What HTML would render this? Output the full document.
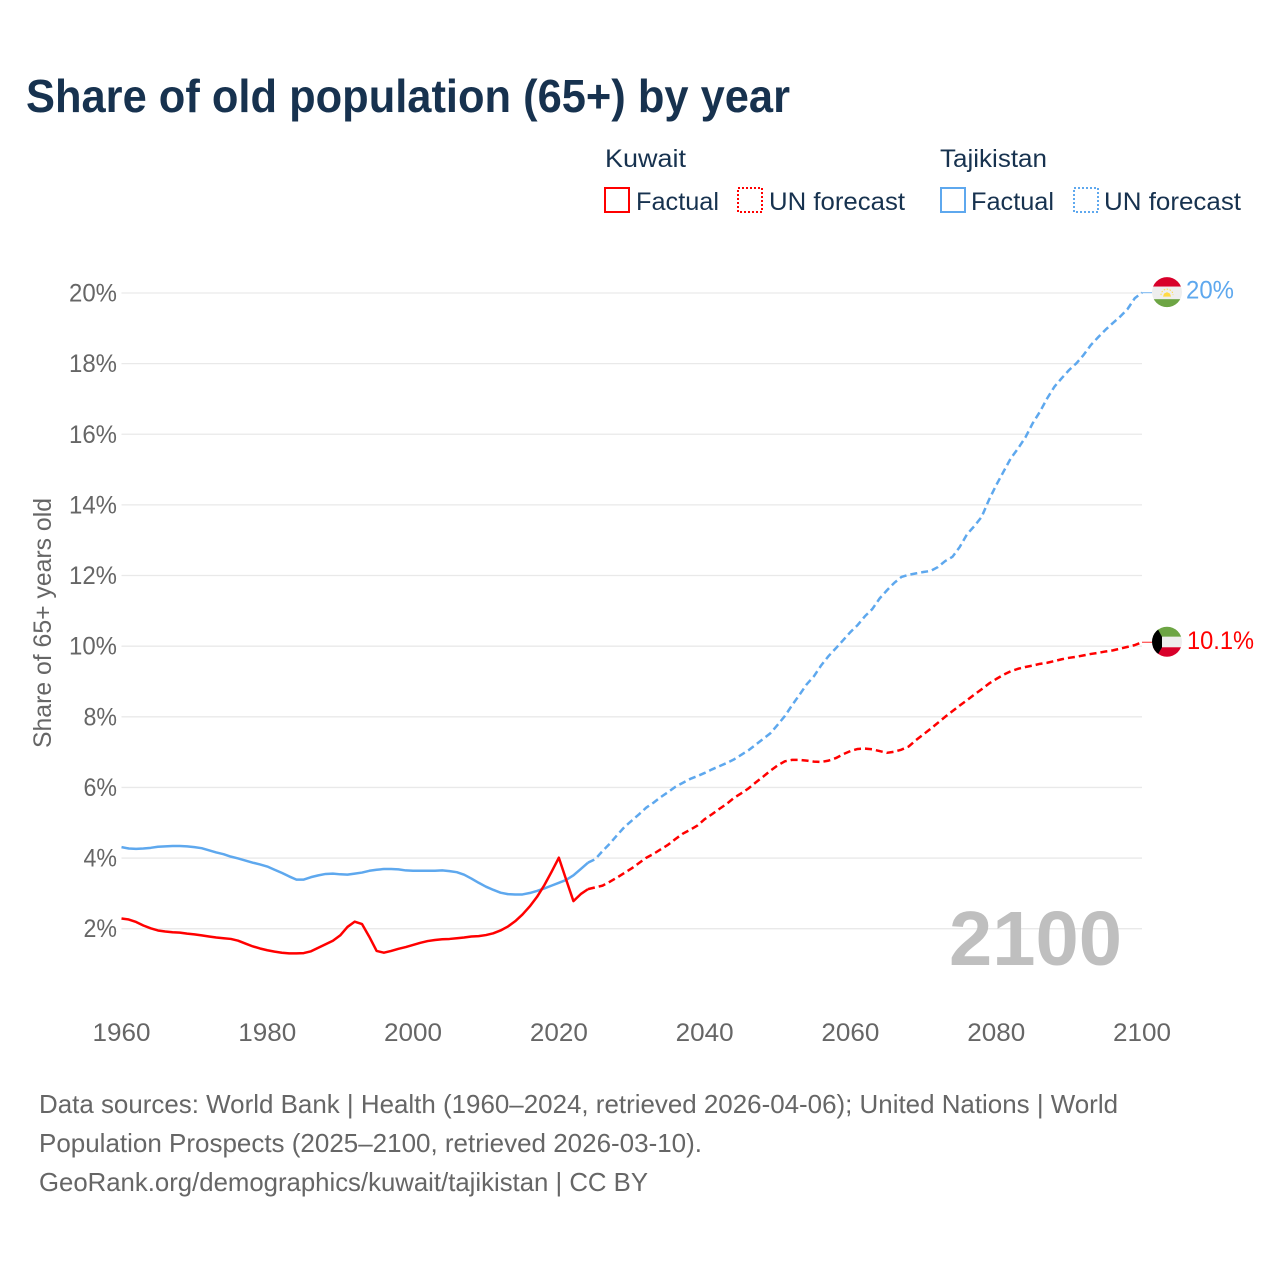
<!DOCTYPE html>
<html lang="en">
<head>
<meta charset="utf-8">
<title>Share of old population (65+) by year</title>
<style>
html,body{margin:0;padding:0;background:#fff;}
svg{display:block;font-family:"Liberation Sans",sans-serif;}
</style>
</head>
<body>
<svg id="chart" width="1280" height="1280" viewBox="0 0 1280 1280" xmlns="http://www.w3.org/2000/svg">
  <rect x="0" y="0" width="1280" height="1280" fill="#ffffff"/>
  <text x="26" y="112" font-size="46" font-weight="700" fill="#17324f" textLength="764" lengthAdjust="spacingAndGlyphs">Share of old population (65+) by year</text>

  <g font-size="25" fill="#17324f">
    <text x="605" y="167" textLength="81" lengthAdjust="spacingAndGlyphs">Kuwait</text>
    <text x="940" y="167" textLength="107" lengthAdjust="spacingAndGlyphs">Tajikistan</text>
    <rect x="605" y="188" width="24" height="24" fill="none" stroke="#ff0000" stroke-width="2"/>
    <text x="636" y="210" textLength="83" lengthAdjust="spacingAndGlyphs">Factual</text>
    <rect x="738" y="188" width="24" height="24" fill="none" stroke="#ff0000" stroke-width="2" stroke-dasharray="2 2"/>
    <text x="769" y="210" textLength="136" lengthAdjust="spacingAndGlyphs">UN forecast</text>
    <rect x="941" y="188" width="24" height="24" fill="none" stroke="#5ea8ee" stroke-width="2"/>
    <text x="971" y="210" textLength="83" lengthAdjust="spacingAndGlyphs">Factual</text>
    <rect x="1074" y="188" width="24" height="24" fill="none" stroke="#5ea8ee" stroke-width="2" stroke-dasharray="2 2"/>
    <text x="1104" y="210" textLength="137" lengthAdjust="spacingAndGlyphs">UN forecast</text>
  </g>

  <g id="grid"></g>
  <g id="yticks" font-size="25" fill="#666666"></g>
  <g id="xticks" font-size="25" fill="#666666"></g>
  <text transform="translate(51,623) rotate(-90)" text-anchor="middle" font-size="25" fill="#666666" textLength="250" lengthAdjust="spacingAndGlyphs">Share of 65+ years old</text>

  <text x="949" y="965" font-size="77" font-weight="700" fill="#bfbfbf" textLength="173" lengthAdjust="spacingAndGlyphs">2100</text>

  <g id="series"></g>

  <defs>
    <clipPath id="flag-clip"><circle cx="0" cy="0" r="15"/></clipPath>
  </defs>
  <g id="flag-tj">
    <g clip-path="url(#flag-clip)">
      <rect x="-16" y="-16" width="32" height="10.5" fill="#d8002a"/>
      <rect x="-16" y="-5.5" width="32" height="12.5" fill="#eeeeee"/>
      <rect x="-16" y="7" width="32" height="9" fill="#6da544"/>
      <path d="M-4 4.5 L4 4.5 L3 1.5 L0 0 L-3 1.5 Z" fill="#ffda44"/>
      <path d="M-6 3 A6 6 0 0 1 6 3" fill="none" stroke="#ffda44" stroke-width="1" stroke-dasharray="1.5 1.5"/>
    </g>
  </g>
  <g id="flag-kw">
    <g clip-path="url(#flag-clip)">
      <rect x="-16" y="-16" width="32" height="11" fill="#6da544"/>
      <rect x="-16" y="-5" width="32" height="10.5" fill="#eeeeee"/>
      <rect x="-16" y="5.5" width="32" height="11" fill="#d8002a"/>
      <path d="M-16 -16 L-11 -16 L-5 -5 L-5 5.5 L-11 16 L-16 16 Z" fill="#000000"/>
    </g>
  </g>
  <text id="label-tj" x="1186" font-size="25" fill="#5ea8ee" textLength="48" lengthAdjust="spacingAndGlyphs"></text>
  <text id="label-kw" x="1187" font-size="25" fill="#ff0000" textLength="67" lengthAdjust="spacingAndGlyphs"></text>

  <g font-size="26" fill="#666666">
    <text x="39" y="1113" textLength="1079" lengthAdjust="spacingAndGlyphs">Data sources: World Bank | Health (1960–2024, retrieved 2026-04-06); United Nations | World</text>
    <text x="39" y="1152" textLength="663" lengthAdjust="spacingAndGlyphs">Population Prospects (2025–2100, retrieved 2026-03-10).</text>
    <text x="39" y="1191" textLength="609" lengthAdjust="spacingAndGlyphs">GeoRank.org/demographics/kuwait/tajikistan | CC BY</text>
  </g>
</svg>
<script>
const yTicks = [2, 4, 6, 8, 10, 12, 14, 16, 18, 20];
const xTicks = [1960, 1980, 2000, 2020, 2040, 2060, 2080, 2100];
const factualStartYear = 1960;
const forecastStartYear = 2024;
const kuwaitFactual = [
  2.29,2.26,2.19,2.09,2.01,1.95,1.92,1.90,1.89,1.86,
  1.84,1.81,1.78,1.75,1.73,1.71,1.66,1.58,1.50,1.44,
  1.39,1.35,1.32,1.30,1.30,1.31,1.36,1.46,1.56,1.66,
  1.81,2.05,2.20,2.13,1.77,1.37,1.32,1.37,1.43,1.48,
  1.54,1.60,1.65,1.68,1.70,1.71,1.73,1.75,1.78,1.79,
  1.82,1.87,1.95,2.06,2.21,2.40,2.63,2.90,3.23,3.61,
  4.01,3.39,2.78,2.98,3.12
];
const kuwaitForecast = [
  3.12,3.17,3.22,3.33,3.45,3.58,
  3.71,3.86,4.01,4.12,4.25,4.38,4.54,4.69,4.80,4.92,
  5.10,5.24,5.39,5.53,5.70,5.83,5.97,6.14,6.30,6.47,
  6.62,6.74,6.78,6.78,6.76,6.73,6.72,6.76,6.83,6.94,
  7.03,7.09,7.10,7.08,7.03,6.98,7.01,7.07,7.16,7.34,
  7.50,7.66,7.83,8.00,8.16,8.32,8.47,8.63,8.78,8.94,
  9.07,9.19,9.29,9.36,9.41,9.45,9.50,9.53,9.58,9.63,
  9.67,9.70,9.74,9.78,9.81,9.85,9.88,9.93,9.98,10.03,
  10.11
];
const tajikistanFactual = [
  4.31,4.27,4.26,4.27,4.29,4.32,4.33,4.34,4.34,4.33,
  4.31,4.28,4.22,4.16,4.11,4.04,3.99,3.93,3.87,3.82,
  3.76,3.67,3.58,3.48,3.39,3.39,3.46,3.51,3.55,3.56,
  3.54,3.53,3.56,3.59,3.64,3.67,3.69,3.69,3.68,3.65,
  3.64,3.64,3.64,3.64,3.65,3.63,3.60,3.53,3.42,3.30,
  3.19,3.10,3.02,2.98,2.97,2.97,3.01,3.07,3.14,3.22,
  3.30,3.38,3.51,3.69,3.87
];
const tajikistanForecast = [
  3.87,3.97,4.20,4.41,4.65,4.88,
  5.06,5.24,5.43,5.57,5.73,5.87,6.02,6.13,6.24,6.32,
  6.41,6.51,6.60,6.69,6.79,6.92,7.05,7.21,7.37,7.53,
  7.77,8.02,8.33,8.62,8.92,9.15,9.46,9.72,9.94,10.17,
  10.40,10.60,10.85,11.05,11.35,11.58,11.79,11.96,12.02,12.06,
  12.10,12.13,12.24,12.41,12.53,12.81,13.17,13.40,13.66,14.14,
  14.56,14.94,15.32,15.60,15.91,16.31,16.64,17.02,17.35,17.59,
  17.82,18.01,18.25,18.53,18.75,18.96,19.15,19.33,19.54,19.85,
  20.01
];
const tajikistanEndLabel = "20%";
const kuwaitEndLabel = "10.1%";

const NS = "http://www.w3.org/2000/svg";
function xScale(year) { return 121.5 + (year - 1960) * (1142 - 121.5) / 140; }
function yScale(v) { return 928.7 - (v - 2) * (928.7 - 293) / 18; }
function make(tag, parent) {
  const el = document.createElementNS(NS, tag);
  parent.appendChild(el);
  return el;
}
const gridGroup = document.getElementById("grid");
const yGroup = document.getElementById("yticks");
const xGroup = document.getElementById("xticks");
const seriesGroup = document.getElementById("series");

yTicks.forEach(function (t) {
  const line = make("line", gridGroup);
  
  
  line.setAttribute("x1", xScale(1960));
  line.setAttribute("x2", xScale(2100));
  line.setAttribute("y1", yScale(t));
  line.setAttribute("y2", yScale(t));
  line.setAttribute("stroke", "#e9e9e9");
  line.setAttribute("stroke-width", "1.3");
  const label = make("text", yGroup);
  
  
  label.setAttribute("x", 117);
  label.setAttribute("y", yScale(t) + 8.5);
  label.setAttribute("text-anchor", "end");
  label.setAttribute("textLength", String(t).length * 14.5 + 19);
  label.setAttribute("lengthAdjust", "spacingAndGlyphs");
  label.textContent = t + "%";
});

xTicks.forEach(function (t) {
  const label = make("text", xGroup);
  
  
  label.setAttribute("x", xScale(t));
  label.setAttribute("y", 1041);
  label.setAttribute("text-anchor", "middle");
  label.setAttribute("textLength", 58);
  label.setAttribute("lengthAdjust", "spacingAndGlyphs");
  label.textContent = t;
});

function pointsOf(values, startYear) {
  return values.map(function (v, i) {
    return xScale(startYear + i).toFixed(2) + "," + yScale(v).toFixed(2);
  });
}
function drawLine(points, color, dash, name) {
  const line = make("polyline", seriesGroup);
  
  
  line.setAttribute("points", points.join(" "));
  line.setAttribute("fill", "none");
  line.setAttribute("stroke", color);
  line.setAttribute("stroke-width", "2.5");
  line.setAttribute("stroke-linejoin", "round");
  if (dash) line.setAttribute("stroke-dasharray", dash);
}
const tajikistanLast = tajikistanForecast[tajikistanForecast.length - 1];
const kuwaitLast = kuwaitForecast[kuwaitForecast.length - 1];

drawLine(pointsOf(tajikistanFactual, factualStartYear), "#5ea8ee", null, "tajikistan-factual-line");
drawLine(pointsOf(tajikistanForecast, forecastStartYear), "#5ea8ee", "7 4", "tajikistan-forecast-line");
drawLine(pointsOf(kuwaitFactual, factualStartYear), "#ff0000", null, "kuwait-factual-line");
drawLine(pointsOf(kuwaitForecast, forecastStartYear), "#ff0000", "7 4", "kuwait-forecast-line");

[[tajikistanLast, "#5ea8ee", "tajikistan-flag-leader"], [kuwaitLast, "#ff0000", "kuwait-flag-leader"]].forEach(function (d) {
  const lead = make("line", seriesGroup);
  
  
  lead.setAttribute("x1", xScale(2100));
  lead.setAttribute("x2", 1152);
  lead.setAttribute("y1", yScale(d[0]));
  lead.setAttribute("y2", yScale(d[0]));
  lead.setAttribute("stroke", d[1]);
  lead.setAttribute("stroke-width", "1.2");
  lead.setAttribute("opacity", "0.7");
});

document.getElementById("flag-tj").setAttribute("transform", "translate(1167," + (yScale(tajikistanLast) - 0.5) + ")");
document.getElementById("flag-kw").setAttribute("transform", "translate(1167," + (yScale(kuwaitLast) - 0.5) + ")");
const labelTj = document.getElementById("label-tj");
labelTj.setAttribute("y", yScale(tajikistanLast) + 6);
labelTj.textContent = tajikistanEndLabel;
const labelKw = document.getElementById("label-kw");
labelKw.setAttribute("y", yScale(kuwaitLast) + 6.5);
labelKw.textContent = kuwaitEndLabel;
</script>
</body>
</html>
